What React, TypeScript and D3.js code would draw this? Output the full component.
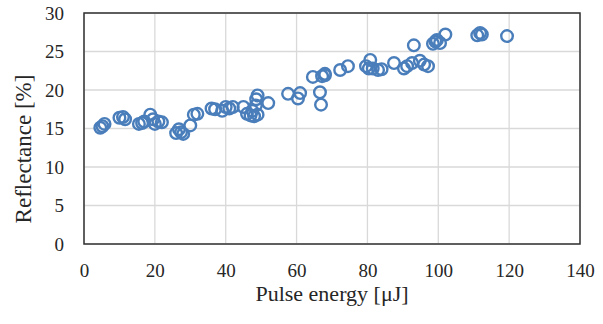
import { useEffect, useRef } from 'react';
import { axisBottom, axisLeft, scaleLinear, select } from 'd3';

// pulse energy [uJ] and reflectance [%]
const energy = [
  4.6, 5.2, 5.8, 10, 11, 11.6, 15.5, 16.4, 17, 18.7, 19.5, 20, 21, 22,
  26, 26.8, 27.4, 28, 30, 31, 32, 36, 37, 39, 40, 41, 42, 45, 46, 47,
  47.5, 48, 48.5, 48.6, 49, 49, 52, 57.6, 60.4, 61, 64.6, 66.6, 66.9,
  67.2, 68, 68, 72.3, 74.5, 79.6, 80.4, 80.8, 81.5, 83, 84, 87.5, 90.3,
  91.2, 92.6, 93.1, 94.8, 96, 97.1, 98.5, 99.2, 99.6, 100.5, 102, 111,
  111.8, 112.3, 119.4,
];
const reflectance = [
  15.1, 15.3, 15.6, 16.4, 16.5, 16.2, 15.6, 15.7, 15.9, 16.8, 16.2, 15.6,
  15.9, 15.8, 14.4, 14.9, 14.5, 14.3, 15.4, 16.8, 16.9, 17.6, 17.5, 17.3,
  17.8, 17.6, 17.8, 17.8, 16.9, 16.7, 17.3, 16.6, 18.0, 18.8, 19.3, 16.8,
  18.3, 19.5, 18.9, 19.6, 21.7, 19.7, 18.1, 21.8, 22.1, 21.9, 22.6, 23.1,
  23.1, 22.8, 23.9, 22.8, 22.6, 22.7, 23.5, 22.8, 23.1, 23.5, 25.8, 23.8,
  23.3, 23.1, 26.0, 26.3, 26.5, 26.1, 27.2, 27.1, 27.4, 27.2, 27.0,
];
const xTicks = [0, 20, 40, 60, 80, 100, 120, 140];
const yTicks = [0, 5, 10, 15, 20, 25, 30];

export default function App() {
  const ref = useRef<SVGSVGElement>(null);

  useEffect(() => {
    const svg = select(ref.current);
    svg.selectAll('*').remove();

    const margin = { top: 13, right: 23, bottom: 80, left: 84 },
      width = 603 - margin.left - margin.right,
      height = 324 - margin.top - margin.bottom;
    const font = 'Liberation Serif';
    const ink = '#262626';

    const x = scaleLinear().domain([0, 140]).range([0, width]);
    const y = scaleLinear().domain([0, 30]).range([height, 0]);

    const g = svg
      .append('g')
      .attr('font-family', font)
      .attr('transform', `translate(${margin.left},${margin.top})`);

    // gridlines
    g.append('g')
      .selectAll('line')
      .data(xTicks)
      .join('line')
      .attr('x1', (d) => x(d))
      .attr('x2', (d) => x(d))
      .attr('y1', 0)
      .attr('y2', height)
      .attr('stroke', '#d9d9d9')
      .attr('stroke-width', 1.3);
    g.append('g')
      .selectAll('line')
      .data(yTicks)
      .join('line')
      .attr('x1', 0)
      .attr('x2', width)
      .attr('y1', (d) => y(d))
      .attr('y2', (d) => y(d))
      .attr('stroke', '#d9d9d9')
      .attr('stroke-width', 1.3);

    // axes
    g.append('g')
      .attr('transform', `translate(0,${height})`)
      .call(axisBottom(x).tickValues(xTicks).tickSize(0).tickPadding(20))
      .call((a) => {
        a.attr('font-family', font).attr('font-size', 19);
        a.select('.domain').remove();
        a.selectAll('text').attr('fill', ink);
      });
    g.append('g')
      .call(axisLeft(y).tickValues(yTicks).tickSize(0).tickPadding(20))
      .call((a) => {
        a.attr('font-family', font).attr('font-size', 19);
        a.select('.domain').remove();
        a.selectAll('text').attr('fill', ink);
      });

    // frame
    g.append('rect')
      .attr('width', width)
      .attr('height', height)
      .attr('fill', 'none')
      .attr('stroke', '#333')
      .attr('stroke-width', 1.5);

    // points
    g.append('g')
      .selectAll('circle')
      .data(energy.map((e, i) => [e, reflectance[i]]))
      .join('circle')
      .attr('cx', (d) => x(d[0]))
      .attr('cy', (d) => y(d[1]))
      .attr('r', 5.8)
      .attr('fill', 'none')
      .attr('stroke', '#4a7ebb')
      .attr('stroke-width', 2.4);

    // titles
    svg
      .append('text')
      .attr('x', margin.left + width / 2)
      .attr('y', 301)
      .attr('text-anchor', 'middle')
      .attr('font-family', font)
      .attr('font-size', 22)
      .attr('fill', ink)
      .text('Pulse energy [μJ]');
    svg
      .append('text')
      .attr('transform', 'translate(31,149) rotate(-90)')
      .attr('text-anchor', 'middle')
      .attr('font-family', font)
      .attr('font-size', 23)
      .attr('fill', ink)
      .text('Reflectance [%]');
  }, []);

  return (
    <svg
      ref={ref}
      width={603}
      height={324}
      style={{ position: 'absolute', left: 0, top: 0, background: '#fff' }}
    />
  );
}
